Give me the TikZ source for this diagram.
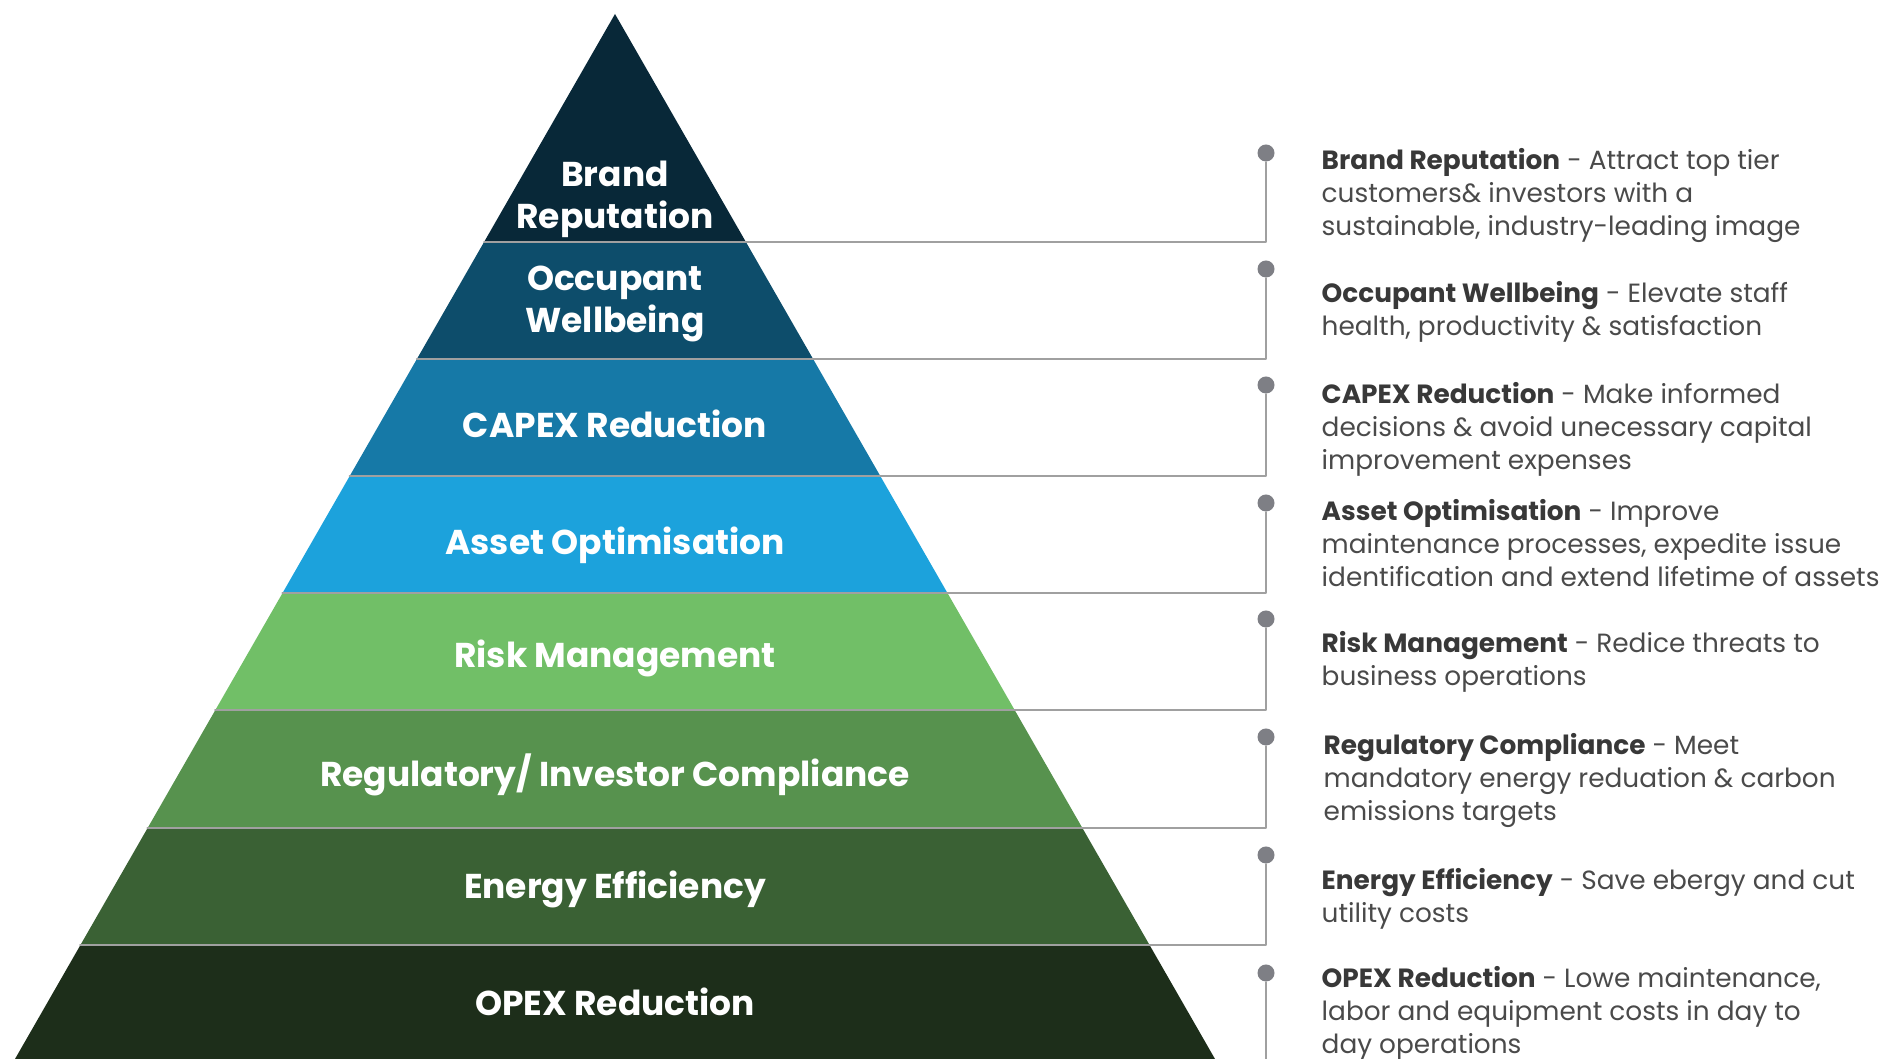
\documentclass[tikz,border=0pt]{standalone}
\usepackage{fontspec}
\setmainfont{Poppins}
\usetikzlibrary{positioning}
\definecolor{lay1}{HTML}{082838}
\definecolor{lay2}{HTML}{0D4D6B}
\definecolor{lay3}{HTML}{1679A7}
\definecolor{lay4}{HTML}{1CA2DC}
\definecolor{lay5}{HTML}{71BF67}
\definecolor{lay6}{HTML}{57924E}
\definecolor{lay7}{HTML}{3A6134}
\definecolor{lay8}{HTML}{1D2E1A}
\definecolor{linegray}{HTML}{A0A0A0}
\definecolor{dotgray}{HTML}{7E7F85}
\definecolor{headgray}{HTML}{383838}
\definecolor{descgray}{HTML}{4A4A4A}
\tikzset{
  lvl/.style={text=white, font=\fontsize{9.8}{12}\selectfont\bfseries, align=center, inner sep=0pt},
  desc/.style={anchor=north west, inner sep=0pt, align=left, text=descgray, font=\fontsize{7.5}{9.3}\selectfont},
  bullet/.style={circle, fill=dotgray, inner sep=0pt, minimum size=1.7mm},
  link/.style={draw=linegray, line width=0.55pt}
}
\newcommand{\hd}[1]{{\bfseries\color{headgray}#1}}
\begin{document}
\begin{tikzpicture}[x=0.1mm, y=0.1mm, line join=round, line cap=round]
\useasboundingbox (0,0) rectangle (1900,1059);
\coordinate (apex) at (615,1045);
\begin{scope}
  \clip (15,0)--(apex)--(1215,0)--cycle;
  \foreach \c/\lo/\hi in {lay8/-20/114, lay7/114/231, lay6/231/349, lay5/349/466, lay4/466/583, lay3/583/700, lay2/700/817, lay1/817/1060}
    \fill[\c] (0,\lo) rectangle (1300,\hi);
\end{scope}
\foreach \y [count=\i] in {817,700,583,466,349,231,114}
  \coordinate (L\i) at ({615-0.5745*(1045-\y)},\y);
\coordinate (e8) at (1266,0);

\node[lvl] (brand) at (615,860) {Brand\\Reputation};
\node[lvl] (occ) at (615,755) {Occupant\\Wellbeing};
\node[lvl] (capex) at (615,635) {CAPEX Reduction};
\node[lvl] (asset) at (615,514) {Asset Optimisation};
\node[lvl] (risk) at (615,401) {Risk Management};
\node[lvl] (reg) at (615,284) {Regulatory/ Investor Compliance};
\node[lvl] (energy) at (615,170) {Energy Efficiency};
\node[lvl] (opex) at (615,57) {OPEX Reduction};

\foreach \y [count=\i] in {906,790,674,556,440,322,204,86}
  \node[bullet] (d\i) at (1266,\y) {};
\foreach \i in {1,...,7}
  \draw[link] (d\i) |- (L\i);
\draw[link] (d8) -- (e8);

\node[desc] (t1) at (1321,911) {\hd{Brand Reputation} - Attract top tier\\customers\& investors with a\\sustainable, industry-leading image};
\node[desc] (t2) at (1321,778) {\hd{Occupant Wellbeing} - Elevate staff\\health, productivity \& satisfaction};
\node[desc] (t3) at (1321,677) {\hd{CAPEX Reduction} - Make informed\\decisions \& avoid unecessary capital\\improvement expenses};
\node[desc] (t4) at (1321,560) {\hd{Asset Optimisation} - Improve\\maintenance processes, expedite issue\\identification and extend lifetime of assets};
\node[desc] (t5) at (1321,428) {\hd{Risk Management} - Redice threats to\\business operations};
\node[desc] (t6) at (1323,326) {\hd{Regulatory Compliance} - Meet\\mandatory energy reduation \& carbon\\emissions targets};
\node[desc] (t7) at (1321,191) {\hd{Energy Efficiency} - Save ebergy and cut\\utility costs};
\node[desc] (t8) at (1321,93) {\hd{OPEX Reduction} - Lowe maintenance,\\labor and equipment costs in day to\\day operations};
\end{tikzpicture}
\end{document}
